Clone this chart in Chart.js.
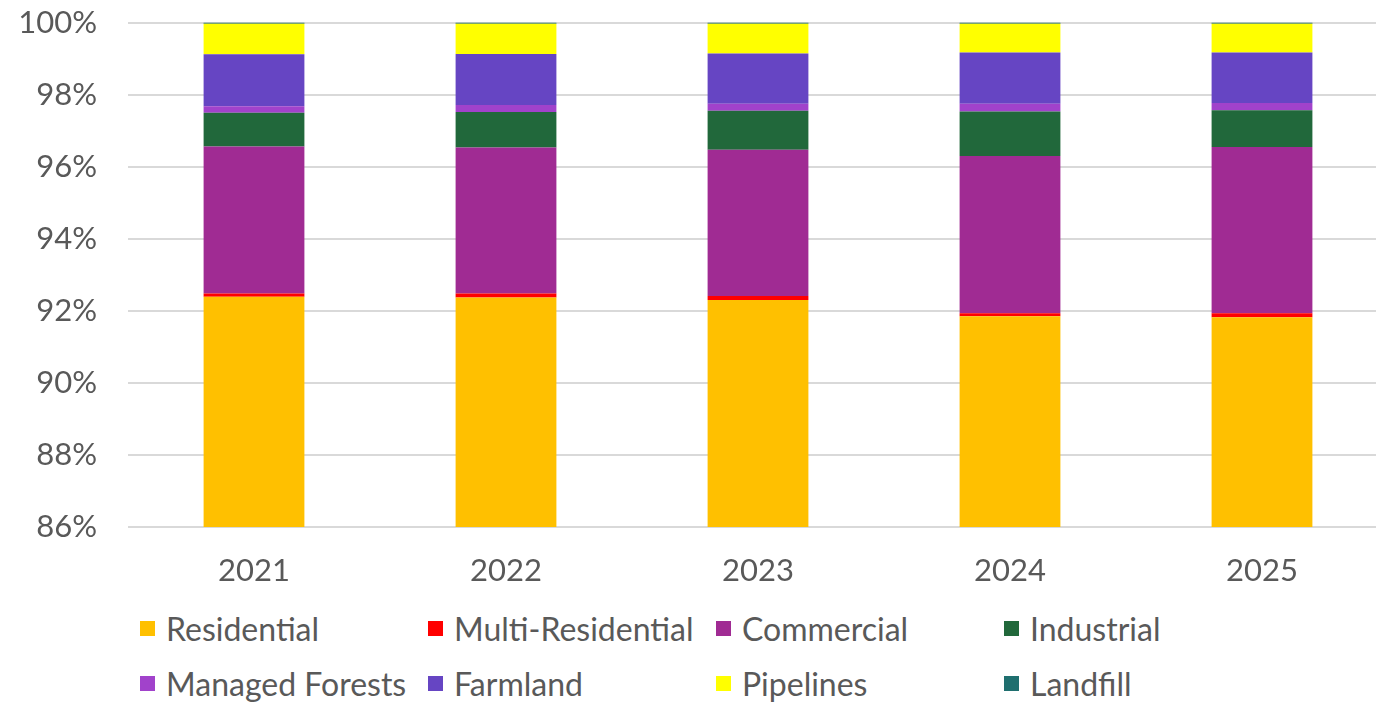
<!DOCTYPE html>
<html>
<head>
<meta charset="utf-8">
<title>Assessment share by property class</title>
<script src="https://cdn.jsdelivr.net/npm/chart.js@4"></script>
<style>
  html, body { margin: 0; padding: 0; background: #fff; overflow: hidden; }
  body { width: 1376px; height: 704px; position: relative; font-family: Lato, "Open Sans", sans-serif; }
  /* canvas is a bit wider/taller than the page so the plot runs flush to the right edge */
  #wrap { position: absolute; left: 0; top: -27px; width: 1388px; height: 627px; }
  #legend {
    position: absolute; left: 140px; top: 601px;
    display: grid; grid-template-columns: repeat(4, 288px); grid-auto-rows: 55px;
    font-size: 32px; color: #595959;
  }
  #legend .item { display: flex; align-items: center; white-space: nowrap; }
  #legend .box { width: 15px; height: 15px; margin-right: 11px; flex: none; }
</style>
</head>
<body>
<div id="wrap"><canvas id="chart" width="1388" height="627"></canvas></div>
<div id="legend"></div>
<script>
const years = ["2021", "2022", "2023", "2024", "2025"];

// share of total assessment, percent
const residential     = [92.39, 92.37, 92.30, 91.85, 91.82];
const multiResidential = [0.09, 0.11, 0.11, 0.08, 0.11];
const commercial      = [4.08, 4.05, 4.06, 4.37, 4.62];
const industrial      = [0.94, 0.99, 1.08, 1.23, 1.02];
const managedForests  = [0.18, 0.19, 0.20, 0.22, 0.20];
const farmland        = [1.44, 1.42, 1.39, 1.42, 1.40];
const pipelines       = [0.85, 0.84, 0.83, 0.80, 0.80];
const landfill        = [0.03, 0.03, 0.03, 0.03, 0.03];

const yTicks = [86, 88, 90, 92, 94, 96, 98, 100];

const series = [
  { label: "Residential", data: residential, color: "#FFC000" },
  { label: "Multi-Residential", data: multiResidential, color: "#FF0000" },
  { label: "Commercial", data: commercial, color: "#A02B93" },
  { label: "Industrial", data: industrial, color: "#21683B" },
  { label: "Managed Forests", data: managedForests, color: "#A142CB" },
  { label: "Farmland", data: farmland, color: "#6645C3" },
  { label: "Pipelines", data: pipelines, color: "#FFFF00" },
  { label: "Landfill", data: landfill, color: "#1F6F6F" }
];

const font = { family: "Lato, 'Open Sans', sans-serif", size: 31 };

const chart = new Chart(document.getElementById("chart"), {
  type: "bar",
  data: {
    labels: years,
    datasets: series.map(s => ({
      label: s.label,
      data: s.data,
      backgroundColor: s.color,
      borderWidth: 0,
      categoryPercentage: 1,
      barPercentage: 0.4
    }))
  },
  options: {
    responsive: false,
    animation: false,
    layout: { padding: { top: 21, left: 0, right: 0, bottom: 0 } },
    plugins: {
      legend: { display: false },
      tooltip: { enabled: false }
    },
    scales: {
      x: {
        stacked: true,
        grid: { display: false },
        border: { display: false },
        ticks: { color: "#595959", font: font, padding: 17 },
        afterFit: s => { s.height = 73; }
      },
      y: {
        stacked: true,
        min: 86,
        max: 100,
        afterBuildTicks: s => { s.ticks = yTicks.map(v => ({ value: v })); },
        grid: { color: "#D9D9D9", lineWidth: 2, drawTicks: false },
        border: { display: false },
        ticks: {
          color: "#595959",
          font: font,
          padding: 31,
          callback: v => v + "%"
        },
        afterFit: s => { s.width = 128; }
      }
    }
  }
});

// legend laid out as a 4-column grid under the plot
const legend = document.getElementById("legend");
chart.data.datasets.forEach(ds => {
  const item = document.createElement("div");
  item.className = "item";
  const box = document.createElement("span");
  box.className = "box";
  box.style.background = ds.backgroundColor;
  const text = document.createElement("span");
  text.textContent = ds.label;
  item.appendChild(box);
  item.appendChild(text);
  legend.appendChild(item);
});
</script>
</body>
</html>
